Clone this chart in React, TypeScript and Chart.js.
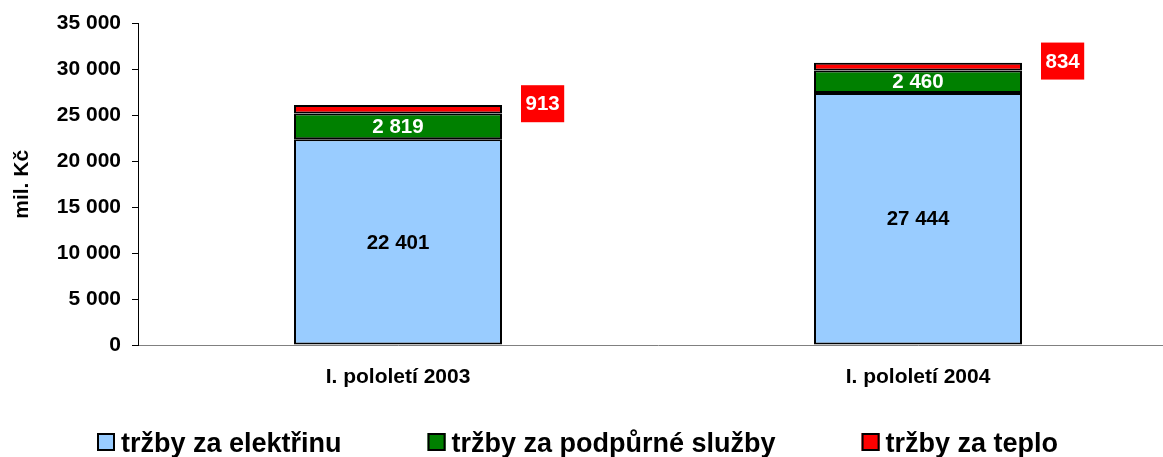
import React, { useEffect, useRef } from "react";
import { Chart, registerables } from "chart.js";

Chart.register(...registerables);

const categories = ["I. pololetí 2003", "I. pololetí 2004"];
const seriesNames = ["tržby za elektřinu", "tržby za podpůrné služby", "tržby za teplo"];
const elektrina = [22401, 27444];
const podpurne = [2819, 2460];
const teplo = [913, 834];
const seriesColors = ["#99CCFF", "#008000", "#FF0000"];
const yMin = 0;
const yMax = 35000;
const yStep = 5000;
const yTitle = "mil. Kč";

const FONT = "'Liberation Sans', Arial, sans-serif";

const fmt = (n: number) => String(n).replace(/\B(?=(\d{3})+(?!\d))/g, " ");

const labelPlugin = {
  id: "valueLabels",
  afterDatasetsDraw(chart: any) {
    const ctx = chart.ctx as CanvasRenderingContext2D;
    ctx.save();
    ctx.font = `bold 20.5px ${FONT}`;
    ctx.textAlign = "center";
    ctx.textBaseline = "middle";
    chart.data.datasets.forEach((ds: any, di: number) => {
      const meta = chart.getDatasetMeta(di);
      meta.data.forEach((bar: any, i: number) => {
        const { x, y, base, width } = bar.getProps(["x", "y", "base", "width"], true);
        const cy = (y + base) / 2;
        const txt = fmt(ds.data[i]);
        if (di === 0) {
          ctx.fillStyle = "#000";
          ctx.fillText(txt, x, cy + 1);
        } else if (di === 1) {
          ctx.fillStyle = "#fff";
          ctx.fillText(txt, x, cy + 1);
        } else {
          const tw = ctx.measureText(txt).width;
          const bw = tw + 9;
          const bh = 37;
          const left = x + width / 2 + 19;
          const top = cy - 5.5 - bh / 2;
          ctx.fillStyle = "#FF0000";
          ctx.fillRect(left, top, bw, bh);
          ctx.fillStyle = "#fff";
          ctx.fillText(txt, left + bw / 2, top + bh / 2 + 1);
        }
      });
    });
    ctx.restore();
  },
};

const legendPlugin = {
  id: "bottomLegend",
  afterDraw(chart: any) {
    const ctx = chart.ctx as CanvasRenderingContext2D;
    ctx.save();
    ctx.font = `bold 27px ${FONT}`;
    ctx.textAlign = "left";
    ctx.textBaseline = "alphabetic";
    let x = 97;
    const boxTop = 433;
    const box = 18;
    chart.data.datasets.forEach((ds: any) => {
      ctx.fillStyle = ds.backgroundColor;
      ctx.fillRect(x, boxTop, box, box);
      ctx.strokeStyle = "#000";
      ctx.lineWidth = 2;
      ctx.strokeRect(x + 1, boxTop + 1, box - 2, box - 2);
      ctx.fillStyle = "#000";
      const tx = x + 24;
      ctx.fillText(ds.label, tx, 452);
      x = tx + ctx.measureText(ds.label).width + 86;
    });
    ctx.restore();
  },
};

export default function App() {
  const ref = useRef<HTMLCanvasElement>(null);

  useEffect(() => {
    if (!ref.current) return;
    const values = [elektrina, podpurne, teplo];
    const chart = new Chart(ref.current, {
      type: "bar",
      data: {
        labels: categories,
        datasets: seriesNames.map((name, i) => ({
          label: name,
          data: values[i],
          backgroundColor: seriesColors[i],
          borderColor: "#000",
          borderWidth: 2,
          borderSkipped: false,
          barPercentage: 0.4,
          categoryPercentage: 1,
        })),
      },
      options: {
        responsive: false,
        animation: false,
        layout: { padding: { top: 23, right: 2, left: 0, bottom: 0 } },
        plugins: {
          legend: { display: false },
          tooltip: { enabled: false },
        },
        scales: {
          x: {
            stacked: true,
            grid: { display: false, drawTicks: false },
            border: { display: true, color: "#808080", width: 1 },
            ticks: {
              color: "#000",
              font: { family: FONT, size: 21, weight: "bold" },
              padding: 20,
            },
            afterFit: (s: any) => {
              s.height = 112;
            },
          },
          y: {
            stacked: true,
            min: yMin,
            max: yMax,
            grid: {
              drawOnChartArea: false,
              drawTicks: true,
              tickLength: 6,
              tickColor: "#000",
            },
            border: { display: true, color: "#000", width: 1 },
            ticks: {
              stepSize: yStep,
              color: "#000",
              font: { family: FONT, size: 21, weight: "bold" },
              padding: 11,
              callback: (v: any) => fmt(Number(v)),
            },
            title: {
              display: true,
              text: yTitle,
              color: "#000",
              font: { family: FONT, size: 21, weight: "bold" },
              padding: { top: 10, bottom: 0 },
            },
            afterFit: (s: any) => {
              s.width = 138;
            },
          },
        },
      },
      plugins: [labelPlugin, legendPlugin],
    });
    return () => chart.destroy();
  }, []);

  return (
    <div
      style={{
        position: "absolute",
        left: 0,
        top: 0,
        width: 1163,
        height: 457,
        overflow: "hidden",
        background: "#fff",
      }}
    >
      <canvas ref={ref} width={1180} height={457} style={{ display: "block" }} />
    </div>
  );
}
